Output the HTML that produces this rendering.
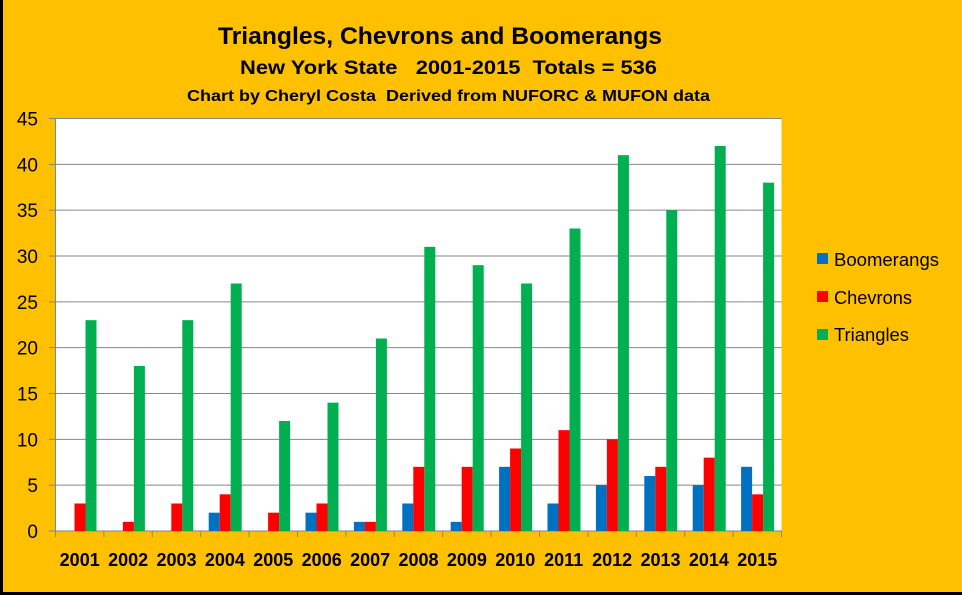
<!DOCTYPE html>
<html><head><meta charset="utf-8"><style>
html,body{margin:0;padding:0;background:#FFC000;}
svg{display:block;font-family:"Liberation Sans",sans-serif;}
</style></head><body>
<svg id="c" width="962" height="595" xmlns="http://www.w3.org/2000/svg">
<rect x="0" y="0" width="962" height="595" fill="#FFC000"/>
<rect x="0" y="0" width="3" height="595" fill="#000"/>
<rect x="0" y="592" width="962" height="3" fill="#000"/>
<text x="218" y="44" font-size="24" font-weight="bold" textLength="444" lengthAdjust="spacingAndGlyphs">Triangles, Chevrons and Boomerangs</text>
<text x="240" y="74" font-size="19" font-weight="bold" textLength="417" lengthAdjust="spacingAndGlyphs" xml:space="preserve">New York State   2001-2015  Totals = 536</text>
<text x="187" y="101" font-size="16" font-weight="bold" textLength="523" lengthAdjust="spacingAndGlyphs" xml:space="preserve">Chart by Cheryl Costa  Derived from NUFORC &amp; MUFON data</text>
<rect x="55.5" y="118.5" width="726" height="412.5" fill="#fff"/>
<g id="g"></g>
<rect x="817" y="253" width="11" height="11" fill="#0070C0"/>
<rect x="817" y="291" width="11" height="11" fill="#FF0000"/>
<rect x="817" y="329" width="11" height="11" fill="#00B050"/>
<text x="834" y="266" font-size="18" textLength="105" lengthAdjust="spacingAndGlyphs">Boomerangs</text>
<text x="834" y="304" font-size="18" textLength="78" lengthAdjust="spacingAndGlyphs">Chevrons</text>
<text x="834" y="341" font-size="18" textLength="75" lengthAdjust="spacingAndGlyphs">Triangles</text>
</svg>
<script>
var B=[0,0,0,2,0,2,1,3,1,7,3,5,6,5,7],C=[3,1,3,4,2,3,1,7,7,9,11,10,7,8,4],T=[23,18,23,27,12,14,21,31,29,27,33,41,35,42,38];
var s='',u=9.167,L=55.5,W=48.4,Y0=531;
for(var k=0;k<=9;k++){var y=Y0-k*5*u;s+='<line x1="49" x2="781.5" y1="'+y+'" y2="'+y+'" stroke="#868686" stroke-width="1"/>';
s+='<text x="38" y="'+(y+7)+'" font-size="19" text-anchor="end">'+(k*5)+'</text>';}
s+='<line x1="55.5" x2="55.5" y1="118.5" y2="531" stroke="#868686"/>';
for(var i=0;i<15;i++){var x=L+W*i;
s+='<line x1="'+x+'" x2="'+x+'" y1="531" y2="537" stroke="#868686"/>';
[[B,'#0070C0',8],[C,'#FF0000',19],[T,'#00B050',30]].forEach(function(a){var v=a[0][i];if(v>0)s+='<rect x="'+(x+a[2])+'" y="'+(Y0-v*u)+'" width="11" height="'+(v*u)+'" fill="'+a[1]+'"/>';});
s+='<text x="'+(x+W/2)+'" y="566" font-size="18" font-weight="bold" text-anchor="middle">'+(2001+i)+'</text>';}
s+='<line x1="781.5" x2="781.5" y1="531" y2="537" stroke="#868686"/>';
document.getElementById('g').innerHTML=s;
</script>
</body></html>
